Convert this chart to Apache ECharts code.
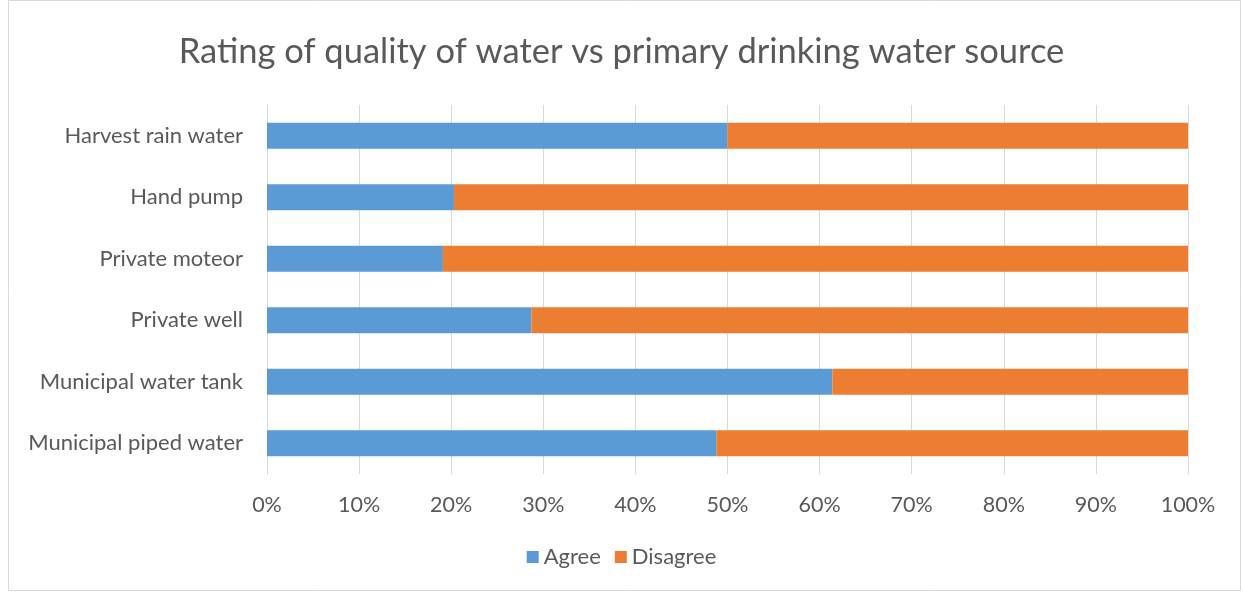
<!DOCTYPE html>
<html><head><meta charset="utf-8">
<script src="https://cdn.jsdelivr.net/npm/echarts@6/dist/echarts.min.js"></script>
<style>html,body{margin:0;padding:0;background:#fff}#c{width:1243px;height:592px}</style>
</head><body><div id="c"></div>
<script>
const categories = ["Municipal piped water","Municipal water tank","Private well","Private moteor","Hand pump","Harvest rain water"];
const agree = [48.8, 61.4, 28.7, 19.1, 20.3, 50.0];
const disagree = [51.2, 38.6, 71.3, 80.9, 79.7, 50.0];
const seriesNames = ["Agree","Disagree"];
const font = "Lato, 'Open Sans', sans-serif";
const chart = echarts.init(document.getElementById('c'));
chart.setOption({
  animation:false,
  graphic:[{type:'rect',shape:{x:8.5,y:0.5,width:1232,height:590},style:{fill:'none',stroke:'#d9d9d9',lineWidth:1}}],
  title:{text:"Rating of quality of water vs primary drinking water source",left:'center',top:29,
    textStyle:{fontFamily:font,fontSize:34.5,fontWeight:'normal',color:'#595959'}},
  legend:{bottom:19,left:'center',itemWidth:12,itemHeight:12,itemGap:14,icon:'rect',
    textStyle:{fontFamily:font,fontSize:22,color:'#595959'},data:seriesNames},
  grid:{left:267,right:55,top:105,bottom:118,containLabel:false},
  xAxis:{type:'value',min:0,max:100,interval:10,
    axisLabel:{formatter:'{value}%',fontFamily:font,fontSize:21.5,color:'#595959',margin:20},
    axisLine:{show:false},axisTick:{show:false},
    splitLine:{lineStyle:{color:'#d9d9d9',width:1}}},
  yAxis:{type:'category',data:categories,
    axisLabel:{fontFamily:font,fontSize:22,color:'#595959',margin:24},
    axisLine:{show:true,lineStyle:{color:'#d9d9d9'}},axisTick:{show:false}},
  series:[
    {name:seriesNames[0],type:'bar',stack:'s',data:agree,barWidth:26,itemStyle:{color:'#5b9bd5'}},
    {name:seriesNames[1],type:'bar',stack:'s',data:disagree,barWidth:26,itemStyle:{color:'#ed7d31'}}
  ]
});
</script></body></html>
